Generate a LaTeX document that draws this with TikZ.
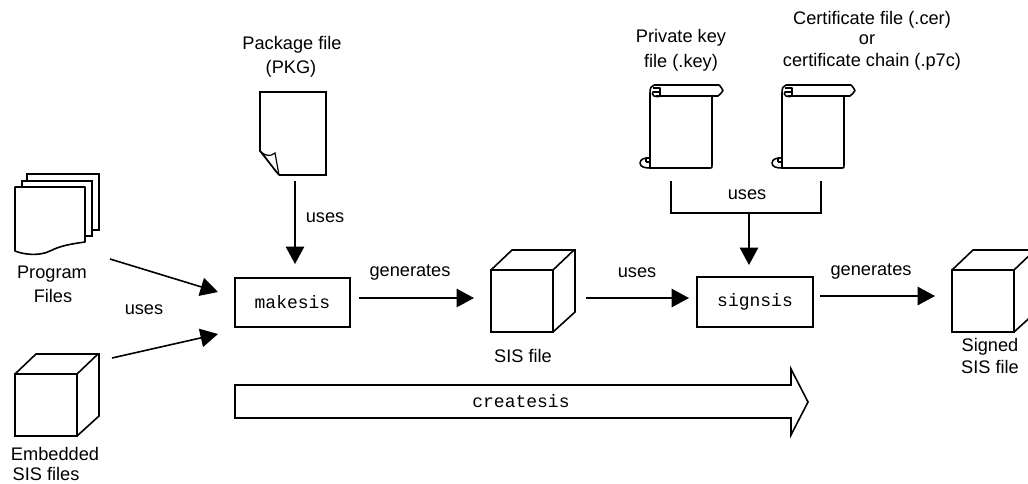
\documentclass[tikz,border=0pt]{standalone}
\usepackage{fontspec}
\setmainfont{Liberation Sans}
\setmonofont{Liberation Mono}
\usetikzlibrary{arrows.meta}
\tikzset{
  lbl/.style={font=\fontsize{18.2pt}{20pt}\selectfont,inner sep=0pt,align=center},
  outl/.style={draw=black,line width=1.6pt,line join=miter},
  ln/.style={draw=black,line width=1.6pt},
  arr/.style={ln,-{Triangle[length=17.5pt,width=18.5pt]}},
  cmdbox/.style={outl,fill=white,inner sep=0pt,outer sep=0pt,font=\ttfamily\fontsize{18pt}{20pt}\selectfont},
  plain/.style={outl,fill=white,inner sep=0pt,outer sep=0pt,anchor=north west},
  ghost/.style={inner sep=0pt,outer sep=0pt,anchor=north west}
}
% name, left, top of the front face
\newcommand{\cubeicon}[3]{%
  \node[plain,minimum width=62pt,minimum height=62pt] (#1) at (#2,#3) {};
  \draw[ln,line join=miter] (#1.north west) -- ++(21pt,20pt) -- ++(63pt,0pt) -- ++(0pt,-62pt) -- (#1.south east);
  \draw[ln] (#1.north east) -- ++(21pt,20pt);
}
% name, left, top of the scroll body
\newcommand{\scrollicon}[3]{%
  \node[ghost,minimum width=62pt,minimum height=83pt] (#1) at (#2,#3) {};
  \begin{scope}[shift={(#2,#3)}]
    \draw[ln,line join=round] (0,8) -- (0,83) -- (60,83) .. controls (62,83) .. (62,80) -- (62,11);
    \draw[ln,line join=round] (4,0) -- (69,0) .. controls (71,1) and (71,3) .. (73,5.5)
      .. controls (71,7) and (71,10) .. (68,11) -- (6,11);
    \draw[ln,line join=round] (0,8) .. controls (0,3) and (1,1) .. (4,0);
    \draw[ln,line join=round] (3,3) -- (10,3) -- (10,10) .. controls (10,12) and (6,12) .. (4,11)
      .. controls (2,10) and (2,8) .. (3,7) -- (10,7);
    \draw[ln,line join=round] (0,73) .. controls (-5,72.5) and (-10,74) .. (-10,78)
      .. controls (-10,82) and (-5,83) .. (0,83);
    \draw[ln] (-4,77) -- (0,77);
    \draw[ln] (-4,74) -- (-4,77);
  \end{scope}
}
\begin{document}
\begin{tikzpicture}[x=1pt,y=-1pt]
\clip (0,0) rectangle (1028,483);
\fill[white] (0,0) rectangle (1028,483);

% Program files (stack of pages)
\node[ghost,minimum width=84pt,minimum height=79pt] (prog) at (15,174) {};
\draw[ln,line join=miter] (27,181) -- (27,174) -- (99,174) -- (99,230) -- (92,230);
\draw[ln,line join=miter] (22,187) -- (22,181) -- (92,181) -- (92,236) -- (85,236);
\draw[ln,line join=round] (15,187) -- (85,187) -- (85,242)
  .. controls (70,244) and (60,246) .. (50,251) .. controls (40,256) and (25,255) .. (15,251) -- cycle;

% Embedded SIS cube
\cubeicon{emb}{15}{374}

% Package file
\node[ghost,minimum width=66pt,minimum height=83pt] (pkg) at (260,92) {};
\draw[ln,line join=miter] (279,175) -- (326,175) -- (326,92) -- (260,92) -- (260,151) -- (279,175);
\draw[line width=1.2pt] (260,151) .. controls (265,156) and (270,157) .. (275,153) -- (279,175);
\draw[line width=1pt] (264,155) -- (276,172);

% Command boxes
\node[cmdbox,minimum width=115pt,minimum height=49pt] (makesis) at (292.5,302.5) {makesis};
\node[cmdbox,minimum width=116pt,minimum height=50pt] (signsis) at (755,302) {signsis};

% SIS cubes
\cubeicon{sis}{491}{270}
\cubeicon{signed}{952}{270}

% Scrolls
\scrollicon{key}{650}{85}
\scrollicon{cert}{782}{85}

% Createsis block arrow
\node[inner sep=0pt,outer sep=0pt,font=\ttfamily\fontsize{18pt}{20pt}\selectfont] (createsis) at (521,401) {createsis};
\draw[outl] (235,385) -- (791,385) -- (791,369) -- (808,402) -- (791,435) -- (791,418) -- (235,418) -- cycle;

% Connector helpers
\coordinate (join) at (749,214);
\coordinate (brL) at (671,181);
\coordinate (brR) at (821,181);

% Connectors
\draw[arr] ([xshift=11pt,yshift=-45.5pt]prog.east) -- ([xshift=-17pt,yshift=10.5pt]makesis.west);
\draw[arr] ([xshift=35pt,yshift=47pt]emb.east) -- ([xshift=-17pt,yshift=-31.5pt]makesis.west);
\draw[arr] ([yshift=-6pt,xshift=2pt]pkg.south) -- ([xshift=2.5pt,yshift=14pt]makesis.north);
\draw[arr] ([xshift=9pt,yshift=4.5pt]makesis.east) -- ([xshift=-17pt,yshift=3pt]sis.west);
\draw[arr] ([xshift=33pt,yshift=3pt]sis.east) -- ([xshift=-8pt,yshift=4pt]signsis.west);
\draw[ln,line join=miter] (brL) -- (671,213) -- (821,213) -- (brR);
\draw[arr] (join) -- ([xshift=-6pt,yshift=12pt]signsis.north);
\draw[arr] ([xshift=7pt,yshift=6pt]signsis.east) -- ([xshift=-17pt,yshift=5pt]signed.west);

% Labels
\node[lbl] (l1) at (292,45) {Package file};
\node[lbl] (l2) at (291,69) {(PKG)};
\node[lbl] (l3) at (681,38) {Private key};
\node[lbl] (l4) at (681,63) {file (.key)};
\node[lbl] (l5) at (872,20) {Certificate file (.cer)};
\node[lbl] (l6) at (867,40) {or};
\node[lbl] (l7) at (872,62) {certificate chain (.p7c)};
\node[lbl] (l8) at (52,274) {Program};
\node[lbl] (l9) at (53,296) {Files};
\node[lbl] (l10) at (144,310) {uses};
\node[lbl] (l11) at (55,454) {Embedded};
\node[lbl] (l12) at (46,473.5) {SIS files};
\node[lbl] (l13) at (325,218) {uses};
\node[lbl] (l14) at (410,272) {generates};
\node[lbl] (l15) at (523,356) {SIS file};
\node[lbl] (l16) at (637,273) {uses};
\node[lbl] (l17) at (747,195) {uses};
\node[lbl] (l18) at (871,271) {generates};
\node[lbl] (l19) at (990,347) {Signed};
\node[lbl] (l20) at (990,367) {SIS file};
\end{tikzpicture}
\end{document}
